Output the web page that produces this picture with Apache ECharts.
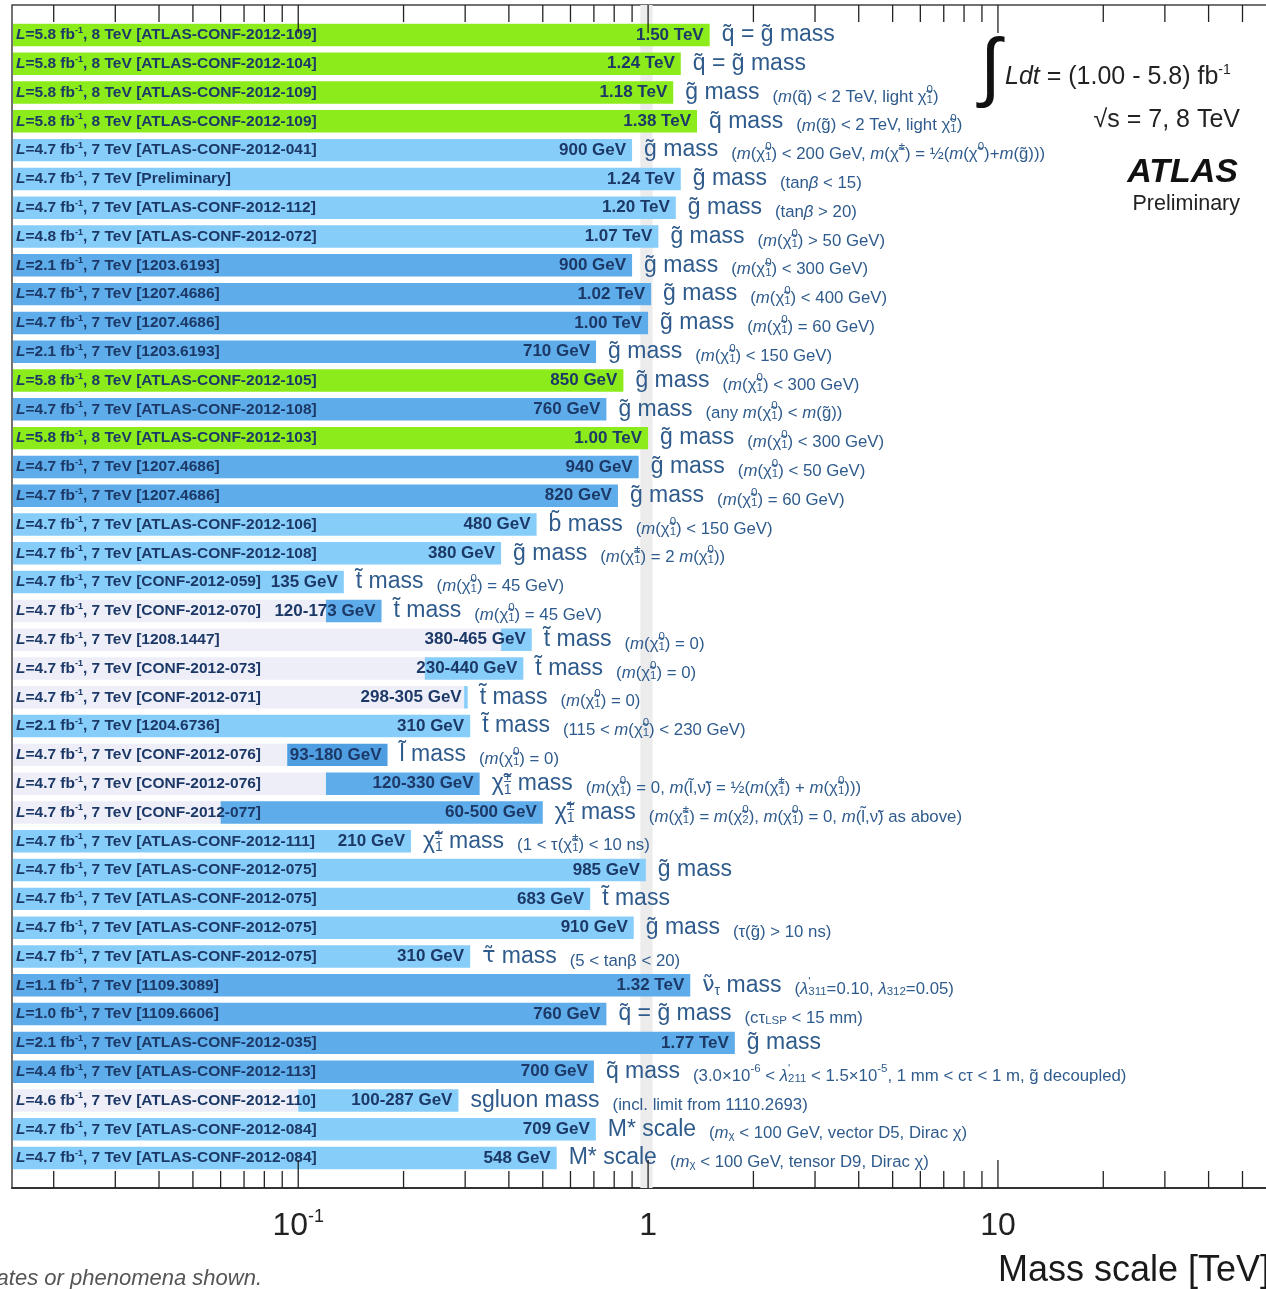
<!DOCTYPE html>
<html>
<head>
<meta charset="utf-8">
<script src="https://cdn.jsdelivr.net/npm/echarts@6/dist/echarts.min.js"></script>
<style>
  html, body { margin: 0; padding: 0; overflow: hidden; background: #fff; }
  #chart { width: 1280px; height: 1289px; }
</style>
</head>
<body>
<div id="chart"></div>
<script>
// --- data (one entry per row, top to bottom) ---
const lumi = ['5.8','5.8','5.8','5.8','4.7','4.7','4.7','4.8','2.1','4.7','4.7','2.1','5.8','4.7','5.8','4.7','4.7','4.7','4.7','4.7',
              '4.7','4.7','4.7','4.7','2.1','4.7','4.7','4.7','4.7','4.7','4.7','4.7','4.7','1.1','1.0','2.1','4.4','4.6','4.7','4.7'];
const energy = [8,8,8,8,7,7,7,7,7,7,7,7,8,7,8,7,7,7,7,7, 7,7,7,7,7,7,7,7,7,7,7,7,7,7,7,7,7,7,7,7];
const reference = ['ATLAS-CONF-2012-109','ATLAS-CONF-2012-104','ATLAS-CONF-2012-109','ATLAS-CONF-2012-109','ATLAS-CONF-2012-041',
  'Preliminary','ATLAS-CONF-2012-112','ATLAS-CONF-2012-072','1203.6193','1207.4686','1207.4686','1203.6193','ATLAS-CONF-2012-105',
  'ATLAS-CONF-2012-108','ATLAS-CONF-2012-103','1207.4686','1207.4686','ATLAS-CONF-2012-106','ATLAS-CONF-2012-108','CONF-2012-059',
  'CONF-2012-070','1208.1447','CONF-2012-073','CONF-2012-071','1204.6736','CONF-2012-076','CONF-2012-076','CONF-2012-077',
  'ATLAS-CONF-2012-111','ATLAS-CONF-2012-075','ATLAS-CONF-2012-075','ATLAS-CONF-2012-075','ATLAS-CONF-2012-075','1109.3089',
  '1109.6606','ATLAS-CONF-2012-035','ATLAS-CONF-2012-113','ATLAS-CONF-2012-110','ATLAS-CONF-2012-084','ATLAS-CONF-2012-084'];

// limits in TeV
const limitHigh = [1.50,1.24,1.18,1.38,0.90,1.24,1.20,1.07,0.90,1.02,1.00,0.71,0.85,0.76,1.00,0.94,0.82,0.48,0.38,0.135,
                   0.173,0.465,0.44,0.305,0.31,0.18,0.33,0.50,0.21,0.985,0.683,0.91,0.31,1.32,0.76,1.77,0.70,0.287,0.709,0.548];
const limitLow = [null,null,null,null,null,null,null,null,null,null,null,null,null,null,null,null,null,null,null,null,
                  0.12,0.38,0.23,0.298,null,0.093,0.12,0.06,null,null,null,null,null,null,null,null,null,0.10,null,null];
const limitText = ['1.50 TeV','1.24 TeV','1.18 TeV','1.38 TeV','900 GeV','1.24 TeV','1.20 TeV','1.07 TeV','900 GeV','1.02 TeV',
  '1.00 TeV','710 GeV','850 GeV','760 GeV','1.00 TeV','940 GeV','820 GeV','480 GeV','380 GeV','135 GeV',
  '120-173 GeV','380-465 GeV','230-440 GeV','298-305 GeV','310 GeV','93-180 GeV','120-330 GeV','60-500 GeV','210 GeV','985 GeV',
  '683 GeV','910 GeV','310 GeV','1.32 TeV','760 GeV','1.77 TeV','700 GeV','100-287 GeV','709 GeV','548 GeV'];
const barTone = ['g','g','g','g','l','l','l','l','m','m','m','m','g','m','g','m','m','l','l','l',
                 'm','l','l','l','l','d','m','m','l','l','l','l','l','m','m','m','m','l','l','l'];

// `..` = italic, §..§ = fallback font for Greek with tilde, _x / _{..} = subscript, ^x / ^{..} = superscript
const particle = ['q̃ = g̃ mass','q̃ = g̃ mass','g̃ mass','q̃ mass','g̃ mass','g̃ mass','g̃ mass','g̃ mass','g̃ mass','g̃ mass',
  'g̃ mass','g̃ mass','g̃ mass','g̃ mass','g̃ mass','g̃ mass','g̃ mass','b̃ mass','g̃ mass','t̃ mass',
  't̃ mass','t̃ mass','t̃ mass','t̃ mass','t̃ mass','l̃ mass','χ̃_1^± mass','χ̃_1^± mass','χ̃_1^± mass','g̃ mass',
  't̃ mass','g̃ mass','§τ̃§ mass','§ν̃§_τ mass','q̃ = g̃ mass','g̃ mass','q̃ mass','sgluon mass','M* scale','M* scale'];
const condition = ['','',
  '(`m`(q̃) < 2 TeV, light χ̃_1^0)',
  '(`m`(g̃) < 2 TeV, light χ̃_1^0)',
  '(`m`(χ̃_1^0) < 200 GeV, `m`(χ̃^±) = ½(`m`(χ̃^0)+`m`(g̃)))',
  '(tan`β` < 15)',
  '(tan`β` > 20)',
  '(`m`(χ̃_1^0) > 50 GeV)',
  '(`m`(χ̃_1^0) < 300 GeV)',
  '(`m`(χ̃_1^0) < 400 GeV)',
  '(`m`(χ̃_1^0) = 60 GeV)',
  '(`m`(χ̃_1^0) < 150 GeV)',
  '(`m`(χ̃_1^0) < 300 GeV)',
  '(any `m`(χ̃_1^0) < `m`(g̃))',
  '(`m`(χ̃_1^0) < 300 GeV)',
  '(`m`(χ̃_1^0) < 50 GeV)',
  '(`m`(χ̃_1^0) = 60 GeV)',
  '(`m`(χ̃_1^0) < 150 GeV)',
  '(`m`(χ̃_1^±) = 2 `m`(χ̃_1^0))',
  '(`m`(χ̃_1^0) = 45 GeV)',
  '(`m`(χ̃_1^0) = 45 GeV)',
  '(`m`(χ̃_1^0) = 0)',
  '(`m`(χ̃_1^0) = 0)',
  '(`m`(χ̃_1^0) = 0)',
  '(115 < `m`(χ̃_1^0) < 230 GeV)',
  '(`m`(χ̃_1^0) = 0)',
  '(`m`(χ̃_1^0) = 0, `m`(l̃,ν̃) = ½(`m`(χ̃_1^±) + `m`(χ̃_1^0)))',
  '(`m`(χ̃_1^±) = `m`(χ̃_2^0), `m`(χ̃_1^0) = 0, `m`(l̃,ν̃) as above)',
  '(1 < τ(χ̃_1^±) < 10 ns)',
  '', '',
  '(τ(g̃) > 10 ns)',
  '(5 < tanβ < 20)',
  "(`λ`^{'}_{311}=0.10, `λ`_{312}=0.05)",
  '(cτ_{LSP} < 15 mm)',
  '',
  "(3.0×10^{-6} < `λ`^{'}_{211} < 1.5×10^{-5}, 1 mm < cτ < 1 m, g̃ decoupled)",
  '(incl. limit from 1110.2693)',
  '(`m`_χ < 100 GeV, vector D5, Dirac χ)',
  '(`m`_χ < 100 GeV, tensor D9, Dirac χ)'];

const minorTicks = [0.02,0.03,0.04,0.05,0.06,0.07,0.08,0.09, 0.2,0.3,0.4,0.5,0.6,0.7,0.8,0.9,
                    2,3,4,5,6,7,8,9, 20,30,40,50,60];
const majorTicks = [0.1, 1, 10];
const unitBand = [0.95, 1.03];
const xMin = 0.0152, xMax = 64;

// --- styling ---
const FAM = '"Liberation Sans", Arial, Helvetica, sans-serif';
const NAVY = '#1c3866';
const STEEL = '#2f5b8c';
const toneColor = { g: '#8ceb1a', l: '#86cdf9', m: '#5eace9', d: '#4f9ee2', r: '#eeeef9' };

function rs(size, extra) {
  return Object.assign({ fontSize: size, fontFamily: FAM, fontWeight: 'normal', fontStyle: 'normal' }, extra);
}
const labelRich = {
  l: rs(15.5, { fontWeight: 'bold', fill: NAVY, lineHeight: 18 }),
  lI: rs(15.5, { fontWeight: 'bold', fontStyle: 'italic', fill: NAVY, lineHeight: 18 }),
  lSup: rs(9, { fontWeight: 'bold', fill: NAVY, lineHeight: 9, verticalAlign: 'top' })
};
const descRich = {
  p: rs(23, { fill: STEEL, lineHeight: 26 }),
  pI: rs(23, { fill: STEEL, lineHeight: 26, fontStyle: 'italic' }),
  pG: rs(22, { fill: STEEL, lineHeight: 26, fontFamily: '"DejaVu Sans", sans-serif' }),
  pSub: rs(14, { fill: STEEL, lineHeight: 14, verticalAlign: 'bottom' }),
  pSubZ: rs(14, { fill: STEEL, lineHeight: 14, verticalAlign: 'bottom', width: 0 }),
  pSup: rs(14, { fill: STEEL, lineHeight: 14, verticalAlign: 'top' }),
  pSupZ: rs(14, { fill: STEEL, lineHeight: 14, verticalAlign: 'top', width: 0 }),
  gap: rs(16, { fill: STEEL, width: 13 }),
  c: rs(16.8, { fill: STEEL, lineHeight: 22, verticalAlign: 'bottom' }),
  cI: rs(16.8, { fill: STEEL, lineHeight: 22, verticalAlign: 'bottom', fontStyle: 'italic' }),
  cSub: rs(11.5, { fill: STEEL, lineHeight: 11, verticalAlign: 'bottom' }),
  cSubZ: rs(11.5, { fill: STEEL, lineHeight: 11, verticalAlign: 'bottom', width: 0 }),
  cSup: rs(11.5, { fill: STEEL, lineHeight: 11, verticalAlign: 'top', padding: [4, 0, 0, 0] }),
  cSupZ: rs(11.5, { fill: STEEL, lineHeight: 11, verticalAlign: 'top', padding: [4, 0, 0, 0], width: 0 })
};

// turn the little markup into ECharts rich text
function markup(src, base) {
  let out = '', buf = '', italic = false, greek = false;
  const flush = () => {
    if (buf) { out += '{' + base + (greek ? 'G' : italic ? 'I' : '') + '|' + buf + '}'; buf = ''; }
  };
  for (let k = 0; k < src.length; k++) {
    const ch = src[k];
    if (ch === '`') { flush(); italic = !italic; continue; }
    if (ch === '§') { flush(); greek = !greek; continue; }
    if (ch === '_' || ch === '^') {
      flush();
      let t;
      if (src[k + 1] === '{') { const e = src.indexOf('}', k); t = src.slice(k + 2, e); k = e; }
      else { t = src[k + 1]; k++; }
      const nxt = src[k + 1];
      const stacked = (nxt === '_' || nxt === '^') && nxt !== ch;
      out += '{' + base + (ch === '_' ? 'Sub' : 'Sup') + (stacked ? 'Z' : '') + '|' + t + '}';
      continue;
    }
    buf += ch;
  }
  flush();
  return out;
}

function renderRow(params, api) {
  const i = api.value(1);
  const cs = params.coordSys;
  const lo = limitLow[i], hi = limitHigh[i];
  const pt = api.coord([hi, i]);
  const xh = pt[0], yc = pt[1];
  const h = Math.abs(api.coord([hi, i + 0.5])[1] - api.coord([hi, i - 0.5])[1]) * 0.78;
  const x0 = cs.x + 1;
  const children = [];
  if (lo != null) {
    const xl = api.coord([lo, i])[0];
    children.push({ type: 'rect', shape: { x: x0, y: yc - h / 2, width: xl - x0, height: h }, style: { fill: toneColor.r } });
    children.push({ type: 'rect', shape: { x: xl, y: yc - h / 2, width: Math.max(xh - xl, 2), height: h }, style: { fill: toneColor[barTone[i]] } });
  } else {
    children.push({ type: 'rect', shape: { x: x0, y: yc - h / 2, width: xh - x0, height: h }, style: { fill: toneColor[barTone[i]] } });
  }
  const src = '`L`=' + lumi[i] + ' fb^{-1}, ' + energy[i] + ' TeV [' + reference[i] + ']';
  children.push({
    type: 'text', x: cs.x + 4, y: yc,
    style: { legacy: false, text: markup(src, 'l'), rich: labelRich, fill: NAVY,
             font: 'bold 15.5px ' + FAM, align: 'left', verticalAlign: 'middle' }
  });
  children.push({
    type: 'text', x: xh - 6, y: yc,
    style: { legacy: false, text: limitText[i], fill: NAVY, font: 'bold 17px ' + FAM,
             align: 'right', verticalAlign: 'middle' }
  });
  let desc = markup(particle[i], 'p');
  if (condition[i]) desc += '{gap| }' + markup(condition[i], 'c');
  children.push({
    type: 'text', x: xh + 12, y: yc,
    style: { legacy: false, text: desc, rich: descRich, fill: STEEL, font: '23px ' + FAM,
             align: 'left', verticalAlign: 'middle' }
  });
  return { type: 'group', children };
}

function renderTick(params, api) {
  const cs = params.coordSys;
  const x = api.coord([api.value(0), 0])[0];
  const len = api.value(2) ? 28 : 17;
  const st = { stroke: '#222', lineWidth: 1.3 };
  return {
    type: 'group', children: [
      { type: 'line', shape: { x1: x, y1: cs.y, x2: x, y2: cs.y + len }, style: st },
      { type: 'line', shape: { x1: x, y1: cs.y + cs.height, x2: x, y2: cs.y + cs.height - len }, style: st }
    ]
  };
}

const tickData = minorTicks.map(v => [v, 0, 0]).concat(majorTicks.map(v => [v, 0, 1]));

const chart = echarts.init(document.getElementById('chart'));
chart.setOption({
  animation: false,
  backgroundColor: '#fff',
  grid: { left: 12, right: 0, top: 5, bottom: 101, show: true, borderColor: '#444', borderWidth: 1.5, backgroundColor: 'transparent' },
  xAxis: {
    type: 'log', logBase: 10, min: xMin, max: xMax, position: 'bottom',
    axisLine: { show: true, onZero: false, lineStyle: { color: '#333', width: 2 } },
    axisTick: { show: false },
    splitLine: { show: false },
    axisLabel: {
      showMinLabel: false, showMaxLabel: false,
      margin: 20, fontSize: 32, fontFamily: FAM, color: '#222', lineHeight: 36,
      formatter: v => {
        const e = Math.round(Math.log10(v));
        if (e < 0) return '10{s|' + e + '}';
        return String(Math.round(v));
      },
      rich: { s: { fontSize: 18, fontFamily: FAM, color: '#222', verticalAlign: 'top', lineHeight: 18 } }
    }
  },
  yAxis: { type: 'value', inverse: true, min: -1.04, max: 40.04, show: false },
  graphic: [
    { type: 'text', left: 980, top: 33, silent: true,
      style: { text: '∫', font: '76px ' + FAM, fill: '#111' } },
    { type: 'text', x: 1005, y: 77, silent: true,
      style: { legacy: false, text: '{i|Ldt}{n| = (1.00 - 5.8) fb}{s|-1}', align: 'left', verticalAlign: 'middle',
        rich: {
          i: rs(25, { fill: '#222', fontStyle: 'italic', lineHeight: 28 }),
          n: rs(25, { fill: '#222', lineHeight: 28 }),
          s: rs(14, { fill: '#222', lineHeight: 14, verticalAlign: 'top' })
        } } },
    { type: 'text', x: 1240, y: 120, silent: true,
      style: { legacy: false, text: '√s = 7, 8 TeV', font: '25px ' + FAM, fill: '#222', align: 'right', verticalAlign: 'middle' } },
    { type: 'text', x: 1238, y: 173, silent: true,
      style: { legacy: false, text: 'ATLAS', font: 'italic bold 34px ' + FAM, fill: '#111', align: 'right', verticalAlign: 'middle' } },
    { type: 'text', x: 1240, y: 204, silent: true,
      style: { legacy: false, text: 'Preliminary', font: '21.5px ' + FAM, fill: '#222', align: 'right', verticalAlign: 'middle' } },
    { type: 'text', x: 998, y: 1271, silent: true,
      style: { legacy: false, text: 'Mass scale [TeV]', font: '36px ' + FAM, fill: '#1a1a1a', align: 'left', verticalAlign: 'middle' } },
    { type: 'text', x: 262, y: 1279, silent: true,
      style: { legacy: false, text: '*Only a selection of the available mass limits on new states or phenomena shown.',
        font: 'italic 22px ' + FAM, fill: '#555', align: 'right', verticalAlign: 'middle' } }
  ],
  series: [
    {
      type: 'custom', z: 1, silent: true,
      data: [[unitBand[0], 0]],
      renderItem: (params, api) => {
        const cs = params.coordSys;
        const x1 = api.coord([unitBand[0], 0])[0];
        const x2 = api.coord([unitBand[1], 0])[0];
        return { type: 'rect', shape: { x: x1, y: cs.y, width: x2 - x1, height: cs.height }, style: { fill: '#ececec' } };
      }
    },
    {
      type: 'custom', z: 2, silent: true,
      data: limitHigh.map((v, i) => [v, i]),
      encode: { x: 0, y: 1 },
      renderItem: renderRow
    },
    {
      type: 'custom', z: 3, silent: true,
      data: tickData,
      encode: { x: 0, y: 1 },
      renderItem: renderTick
    }
  ]
});
</script>
</body>
</html>
